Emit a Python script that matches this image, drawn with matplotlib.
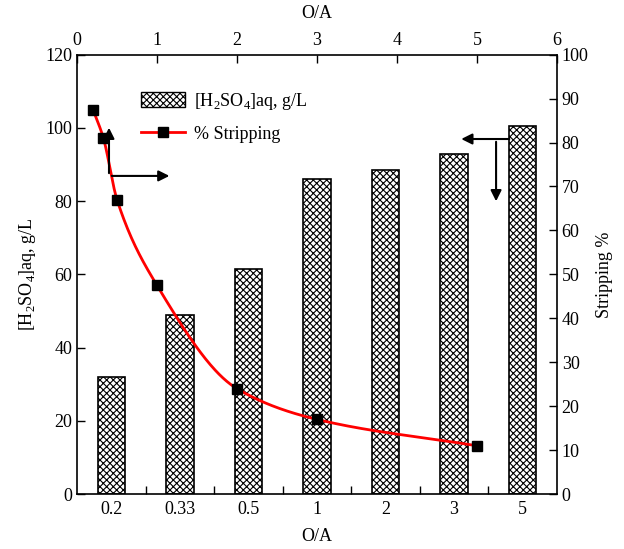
import numpy as np
import matplotlib
matplotlib.use('Agg')
import matplotlib.pyplot as plt
from matplotlib.patches import Patch
from matplotlib.lines import Line2D

plt.rcParams['font.family'] = ['Liberation Serif', 'DejaVu Serif']
plt.rcParams['mathtext.fontset'] = 'custom'
plt.rcParams['mathtext.rm'] = 'Liberation Serif'
plt.rcParams['hatch.linewidth'] = 0.8

# data
oa_labels = ['0.2', '0.33', '0.5', '1', '2', '3', '5']
h2so4 = [32, 49, 61.5, 86, 88.5, 93, 100.5]
oa_values = [0.2, 0.33, 0.5, 1, 2, 3, 5]
stripping = [87.5, 81, 67, 47.5, 24, 17, 11]

FS = 13


def pchip(x, y, xs):
    # monotone cubic curve just for drawing the smooth line
    x = np.asarray(x, float)
    y = np.asarray(y, float)
    h = np.diff(x)
    d = np.diff(y) / h
    m = np.zeros_like(y)
    for k in range(1, len(x) - 1):
        if d[k - 1] * d[k] > 0:
            w1 = 2 * h[k] + h[k - 1]
            w2 = h[k] + 2 * h[k - 1]
            m[k] = (w1 + w2) / (w1 / d[k - 1] + w2 / d[k])
    m[0] = d[0]
    m[-1] = d[-1]
    idx = np.clip(np.searchsorted(x, xs) - 1, 0, len(x) - 2)
    t = (xs - x[idx]) / h[idx]
    h00 = 2 * t**3 - 3 * t**2 + 1
    h10 = t**3 - 2 * t**2 + t
    h01 = -2 * t**3 + 3 * t**2
    h11 = t**3 - t**2
    return h00 * y[idx] + h10 * h[idx] * m[idx] + h01 * y[idx + 1] + h11 * h[idx] * m[idx + 1]


fig = plt.figure(figsize=(6.24, 5.49), dpi=100)
rect = [0.1234, 0.100, 0.769, 0.8005]
ax = fig.add_axes(rect)

xpos = np.arange(len(oa_labels))
ax.bar(xpos, h2so4, width=0.4, color='white', edgecolor='black',
       hatch='xxxxx', linewidth=1.2, zorder=2)
ax.set_xlim(-0.5, len(oa_labels) - 0.5)
ax.set_ylim(0, 120)
ax.set_xticks(xpos)
ax.set_xticklabels(oa_labels)
ax.set_xticks(xpos[:-1] + 0.5, minor=True)
ax.tick_params(axis='x', which='major', length=0, pad=5, labelsize=FS)
ax.tick_params(axis='x', which='minor', direction='in', length=6, width=1)
ax.set_yticks(np.arange(0, 121, 20))
ax.tick_params(axis='y', direction='in', length=6, width=1, labelsize=FS, right=False)
ax.set_xlabel('O/A', fontsize=FS, labelpad=7)
ax.set_ylabel('[H$_2$SO$_4$]aq, g/L', fontsize=FS, labelpad=5)
for s in ax.spines.values():
    s.set_linewidth(1.2)

ax2 = fig.add_axes(rect, frameon=False)
xs = np.linspace(min(oa_values), max(oa_values), 400)
ax2.plot(xs, pchip(oa_values, stripping, xs), color='red', lw=2, zorder=3)
ax2.plot(oa_values, stripping, 's', color='black', ms=7, zorder=4)
ax2.set_xlim(0, 6)
ax2.set_ylim(0, 100)
ax2.xaxis.tick_top()
ax2.xaxis.set_label_position('top')
ax2.yaxis.tick_right()
ax2.yaxis.set_label_position('right')
ax2.set_xticks(range(0, 7))
ax2.set_yticks(range(0, 101, 10))
ax2.tick_params(direction='in', length=6, width=1, labelsize=FS)
ax2.tick_params(axis='x', pad=4)
ax2.set_xlabel('O/A', fontsize=FS, labelpad=10)
ax2.set_ylabel('Stripping %', fontsize=FS, labelpad=5)

# arrows showing which axis each series belongs to
akw = dict(arrowstyle='-|>', color='black', lw=1.5, mutation_scale=16)
ax2.annotate('', xy=(0.40, 84), xytext=(0.40, 72.4), arrowprops=akw)
ax2.annotate('', xy=(1.19, 72.4), xytext=(0.40, 72.4), arrowprops=akw)
ax2.annotate('', xy=(4.77, 80.8), xytext=(5.44, 80.8), arrowprops=akw)
ax2.annotate('', xy=(5.24, 66), xytext=(5.24, 80.8), arrowprops=akw)

handles = [Patch(facecolor='white', edgecolor='black', hatch='xxxxx', lw=1.0,
                 label='[H$_2$SO$_4$]aq, g/L'),
           Line2D([0], [0], color='red', lw=2, marker='s', mfc='black',
                  mec='black', ms=7, label='% Stripping')]
ax2.legend(handles=handles, loc='upper left', bbox_to_anchor=(0.10, 0.955),
           frameon=False, fontsize=FS, handlelength=2.4, handleheight=0.9,
           handletextpad=0.5, labelspacing=0.75)

fig.savefig('out.png', dpi=100)
